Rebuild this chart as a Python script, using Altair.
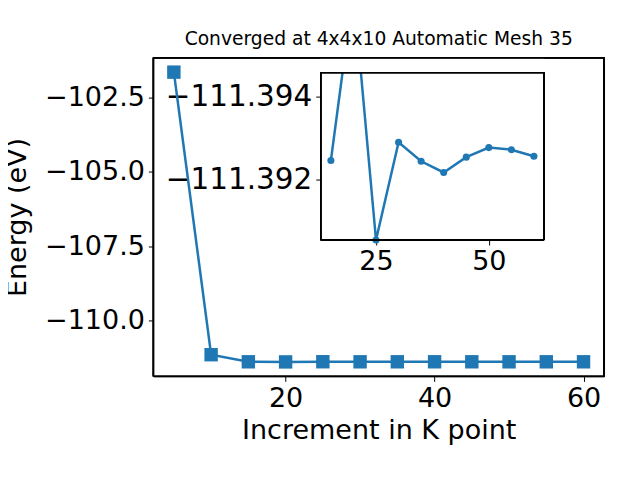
import altair as alt
import pandas as pd

# ---- data ----
K = [5, 10, 15, 20, 25, 30, 35, 40, 45, 50, 55, 60]
ENERGY = [-101.64, -111.154, -111.39245, -111.39656, -111.39053, -111.39289,
          -111.39243, -111.39216, -111.39253, -111.39276, -111.39271, -111.39255]

MAIN_X_DOMAIN = [2.25, 62.75]
MAIN_Y_DOMAIN = [-111.884, -101.152]
MAIN_X_TICKS = [20, 40, 60]
MAIN_Y_TICKS = [-110.0, -107.5, -105.0, -102.5]

INSET_FROM = 15
INSET_X_DOMAIN = [12.75, 62.25]
INSET_Y_DOMAIN = [-111.39457, -111.39053]   # drawn inverted (smaller on top)
INSET_X_TICKS = [25, 50]
INSET_Y_TICKS = [-111.394, -111.392]

TITLE = "Converged at 4x4x10 Automatic Mesh 35"
X_TITLE = "Increment in K point"
Y_TITLE = "Energy (eV)"

BLUE = "#1f77b4"
FONT = "DejaVu Sans"

# ---- layout (pixels) ----
W, H = 451, 319
INSET_X_RANGE = [167.5, 391]
INSET_Y_RANGE = [15, 182.5]

main_df = pd.DataFrame({"k": K, "energy": ENERGY})
inset_df = main_df[main_df["k"] >= INSET_FROM].reset_index(drop=True)

common_axis = dict(labelFont=FONT, labelFontSize=27, labelColor="black",
                   titleFont=FONT, titleFontSize=27, titleFontWeight="normal",
                   titleColor="black", tickColor="black", tickSize=5,
                   tickWidth=1, labelPadding=4, grid=False, domain=False)

ax_x_main = alt.Axis(values=MAIN_X_TICKS, format="d", title=X_TITLE,
                     titlePadding=6, **common_axis)
ax_y_main = alt.Axis(values=MAIN_Y_TICKS, format=".1f", title=Y_TITLE,
                     titlePadding=13, **common_axis)

sx_main = alt.Scale(domain=MAIN_X_DOMAIN, nice=False, zero=False)
sy_main = alt.Scale(domain=MAIN_Y_DOMAIN, nice=False, zero=False)

xm = alt.X("k:Q", scale=sx_main, axis=ax_x_main)
ym = alt.Y("energy:Q", scale=sy_main, axis=ax_y_main)

main_base = alt.Chart(main_df)
main_line = main_base.mark_line(color=BLUE, strokeWidth=2.5).encode(x=xm, y=ym)
main_pts = main_base.mark_point(shape="square", filled=True, size=180,
                                color=BLUE, opacity=1).encode(x=xm, y=ym)
main = alt.layer(main_line, main_pts)

inset_x_axis = dict(common_axis)
inset_y_axis = dict(common_axis, labelFontSize=29.5)

ax_x_in = alt.Axis(values=INSET_X_TICKS, format="d", title=None, orient="bottom",
                   offset=-(H - INSET_Y_RANGE[1]), **inset_x_axis)
ax_y_in = alt.Axis(values=INSET_Y_TICKS, format=".3f", title=None, orient="left",
                   offset=-INSET_X_RANGE[0], **inset_y_axis)

sx_in = alt.Scale(domain=INSET_X_DOMAIN, range=INSET_X_RANGE, nice=False, zero=False)
sy_in = alt.Scale(domain=INSET_Y_DOMAIN, range=INSET_Y_RANGE, nice=False, zero=False)

xi = alt.X("k:Q", scale=sx_in, axis=ax_x_in)
yi = alt.Y("energy:Q", scale=sy_in, axis=ax_y_in)

inset_base = alt.Chart(inset_df)
inset_line = inset_base.mark_line(color=BLUE, strokeWidth=2.5, clip=True).encode(x=xi, y=yi)
inset_pts = inset_base.mark_circle(color=BLUE, size=50, opacity=1, clip=True).encode(x=xi, y=yi)

# white strip hiding the part of the inset line that leaves the inset box
cover = alt.Chart(inset_df).mark_rect(color="white", clip=True).encode(
    x=alt.XDatum(INSET_X_DOMAIN[0], type="quantitative", scale=sx_in, axis=ax_x_in),
    x2=alt.X2Datum(INSET_X_DOMAIN[1]),
    y=alt.YDatum(INSET_Y_DOMAIN[0], type="quantitative", scale=sy_in, axis=ax_y_in),
    y2=alt.Y2Datum(min(ENERGY[2:])),
)
frame = alt.Chart(inset_df).mark_rect(fillOpacity=0, stroke="black", strokeWidth=1).encode(
    x=alt.XDatum(INSET_X_DOMAIN[0], type="quantitative", scale=sx_in, axis=ax_x_in),
    x2=alt.X2Datum(INSET_X_DOMAIN[1]),
    y=alt.YDatum(INSET_Y_DOMAIN[0], type="quantitative", scale=sy_in, axis=ax_y_in),
    y2=alt.Y2Datum(INSET_Y_DOMAIN[1]),
)
inset = alt.layer(inset_line, inset_pts, cover, frame)

# outer frame of the main axes, drawn last so nothing hides it
outer = alt.Chart(main_df).mark_rect(fillOpacity=0, stroke="black", strokeWidth=1).encode(
    x=alt.XDatum(MAIN_X_DOMAIN[0], type="quantitative", scale=sx_main, axis=None),
    x2=alt.X2Datum(MAIN_X_DOMAIN[1]),
    y=alt.YDatum(MAIN_Y_DOMAIN[0], type="quantitative", scale=sy_main, axis=None),
    y2=alt.Y2Datum(MAIN_Y_DOMAIN[1]),
)

chart = alt.layer(main, inset, outer).resolve_scale(x="independent", y="independent").properties(
    width=W, height=H,
    autosize=alt.AutoSizeParams(type="none"),
    padding={"left": 145.5, "top": 49.5, "right": 28, "bottom": 96},
    title=alt.TitleParams(TITLE, font=FONT, fontSize=18.7, fontWeight="normal",
                          color="black", anchor="middle", offset=8),
).configure(
    background="white",
    view=alt.ViewConfig(stroke="black", strokeWidth=1),
)

chart.save("out.html", embed_options={"renderer": "svg", "actions": False})
